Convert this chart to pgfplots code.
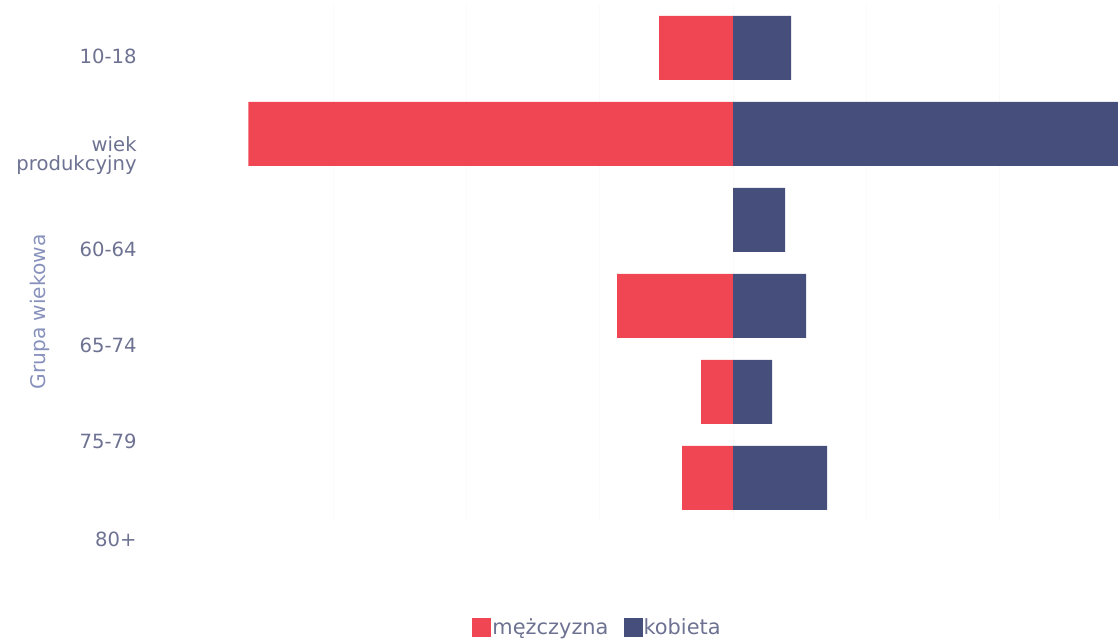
\documentclass[border=0pt]{standalone}
\usepackage{fontspec}
\setmainfont{DejaVu Sans}
\usepackage{pgfplots}
\pgfplotsset{compat=1.18}
\definecolor{men}{RGB}{240,70,84}
\definecolor{women}{RGB}{70,78,124}
\definecolor{lbl}{RGB}{110,114,146}
\definecolor{ttl}{RGB}{135,145,188}
\begin{document}
\begin{tikzpicture}
\useasboundingbox (0,0) rectangle (559pt,320.5pt);
\begin{axis}[
  at={(100pt,318pt)}, anchor=north west,
  scale only axis, width=459pt, height=258pt,
  xmin=-400, xmax=288.8, ymin=-0.5, ymax=5.5, y dir=reverse,
  xtick={-300,-200,-100,0,100,200}, xticklabels={}, ytick=\empty,
  xmajorgrids, grid style={color=gray!4, line width=0.6pt},
  axis line style={draw=none}, major tick length=0pt,
  xbar, bar width=32pt, bar shift=0pt,
  legend columns=2,
  legend style={at={(0.4325,-0.207)}, anchor=center, draw=none, fill=none,
    font=\fontsize{10.45}{12}\selectfont, text=lbl,
    nodes={inner sep=0.5pt},
    /tikz/every even column/.append style={column sep=7pt},
    inner sep=0pt},
  legend image code/.code={\fill[#1] (0pt,-4.75pt) rectangle (9.5pt,4.75pt);},
]
\addplot[fill=men, draw=none] coordinates {(-55.5,0) (-363.8,1) (0,2) (-87,3) (-24,4) (-38.3,5)};
\addlegendentry{mężczyzna}
\addplot[fill=women, draw=none] coordinates {(43.5,0) (300,1) (39,2) (54.8,3) (29.3,4) (70.5,5)};
\addlegendentry{kobieta}
\coordinate (l0) at (axis cs:-400,0.093);
\coordinate (l1) at (axis cs:-400,1.256);
\coordinate (l2) at (axis cs:-400,2.337);
\coordinate (l3) at (axis cs:-400,3.453);
\coordinate (l4) at (axis cs:-400,4.57);
\coordinate (l5) at (axis cs:-400,5.71);
\end{axis}
\begin{scope}[every node/.style={anchor=east, text=lbl, font=\fontsize{9.8}{9.5}\selectfont, align=right, inner sep=0pt}]
\node at ([xshift=-31.5pt]l0) {10-18};
\node at ([xshift=-31.5pt]l1) {wiek\\produkcyjny};
\node at ([xshift=-31.5pt]l2) {60-64};
\node at ([xshift=-31.5pt]l3) {65-74};
\node at ([xshift=-31.5pt]l4) {75-79};
\node at ([xshift=-31.5pt]l5) {80+};
\end{scope}
\node[rotate=90, text=ttl, font=\fontsize{10.1}{12}\selectfont, inner sep=0pt] at (20pt,164.5pt) {Grupa wiekowa};
\end{tikzpicture}
\end{document}
